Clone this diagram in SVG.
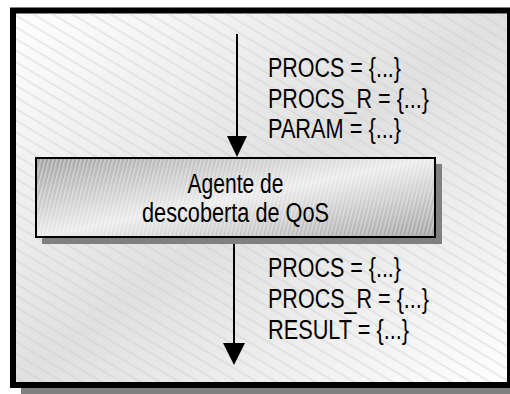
<svg xmlns="http://www.w3.org/2000/svg" width="510" height="394" viewBox="0 0 510 394">
  <defs>
    <linearGradient id="bgGrad" x1="0" y1="0" x2="1" y2="1">
      <stop offset="0" stop-color="#ffffff"/>
      <stop offset="0.5" stop-color="#e0e0e0"/>
      <stop offset="1" stop-color="#ffffff"/>
    </linearGradient>
    <pattern id="hatch" patternUnits="userSpaceOnUse" width="10" height="10" patternTransform="rotate(31)">
      <line x1="0" y1="5" x2="10" y2="5" stroke="#c8c8c8" stroke-width="0.7"/>
    </pattern>
    <linearGradient id="boxGrad" x1="0" y1="0" x2="1" y2="1">
      <stop offset="0" stop-color="#a0a0a0"/>
      <stop offset="0.5" stop-color="#ebebeb"/>
      <stop offset="1" stop-color="#a0a0a0"/>
    </linearGradient>
    <pattern id="stripes" patternUnits="userSpaceOnUse" width="4" height="8" patternTransform="skewX(-14)">
      <rect x="0" y="0" width="1.5" height="8" fill="#ffffff" fill-opacity="0.4"/>
    </pattern>
  </defs>
  <style>
    .lbl { font-family: "Liberation Sans Narrow", "Liberation Sans", Arial, sans-serif; font-size: 27px; fill: #000000; }
    .conn { stroke: #000000; stroke-width: 2; fill: none; }
    .head { fill: #000000; stroke: none; }
  </style>

  <g id="frame">
    <rect x="21" y="16" width="500" height="390" fill="#808080"/>
    <rect x="13" y="10.5" width="497" height="374.5" fill="url(#bgGrad)" stroke="#000000" stroke-width="6"/>
    <rect x="16" y="13.5" width="491" height="368.5" fill="url(#hatch)"/>
  </g>

  <g id="connectors">
    <line class="conn" x1="237" y1="34" x2="237" y2="138"/>
    <polygon class="head" points="227,136 247,136 237,157"/>
    <line class="conn" x1="234" y1="238" x2="234" y2="345"/>
    <polygon class="head" points="223,343 245,343 234,365"/>
  </g>

  <g id="agente">
    <rect x="42" y="164" width="400" height="80" fill="#808080"/>
    <rect x="36" y="158" width="399" height="79" fill="url(#boxGrad)" stroke="#000000" stroke-width="2"/>
    <rect x="37" y="159" width="397" height="77" fill="url(#stripes)"/>
    <text class="lbl" x="235.5" y="193" text-anchor="middle" textLength="96" lengthAdjust="spacingAndGlyphs">Agente de</text>
    <text class="lbl" x="235.5" y="222" text-anchor="middle" textLength="187" lengthAdjust="spacingAndGlyphs">descoberta de QoS</text>
  </g>

  <g id="input-labels">
    <text class="lbl" x="268" y="77" textLength="133" lengthAdjust="spacingAndGlyphs">PROCS = {...}</text>
    <text class="lbl" x="268" y="107.5" textLength="161" lengthAdjust="spacingAndGlyphs">PROCS_R = {...}</text>
    <text class="lbl" x="268" y="138" textLength="133" lengthAdjust="spacingAndGlyphs">PARAM = {...}</text>
  </g>

  <g id="output-labels">
    <text class="lbl" x="268" y="277" textLength="133" lengthAdjust="spacingAndGlyphs">PROCS = {...}</text>
    <text class="lbl" x="268" y="308" textLength="161" lengthAdjust="spacingAndGlyphs">PROCS_R = {...}</text>
    <text class="lbl" x="268" y="339" textLength="141" lengthAdjust="spacingAndGlyphs">RESULT = {...}</text>
  </g>
</svg>
